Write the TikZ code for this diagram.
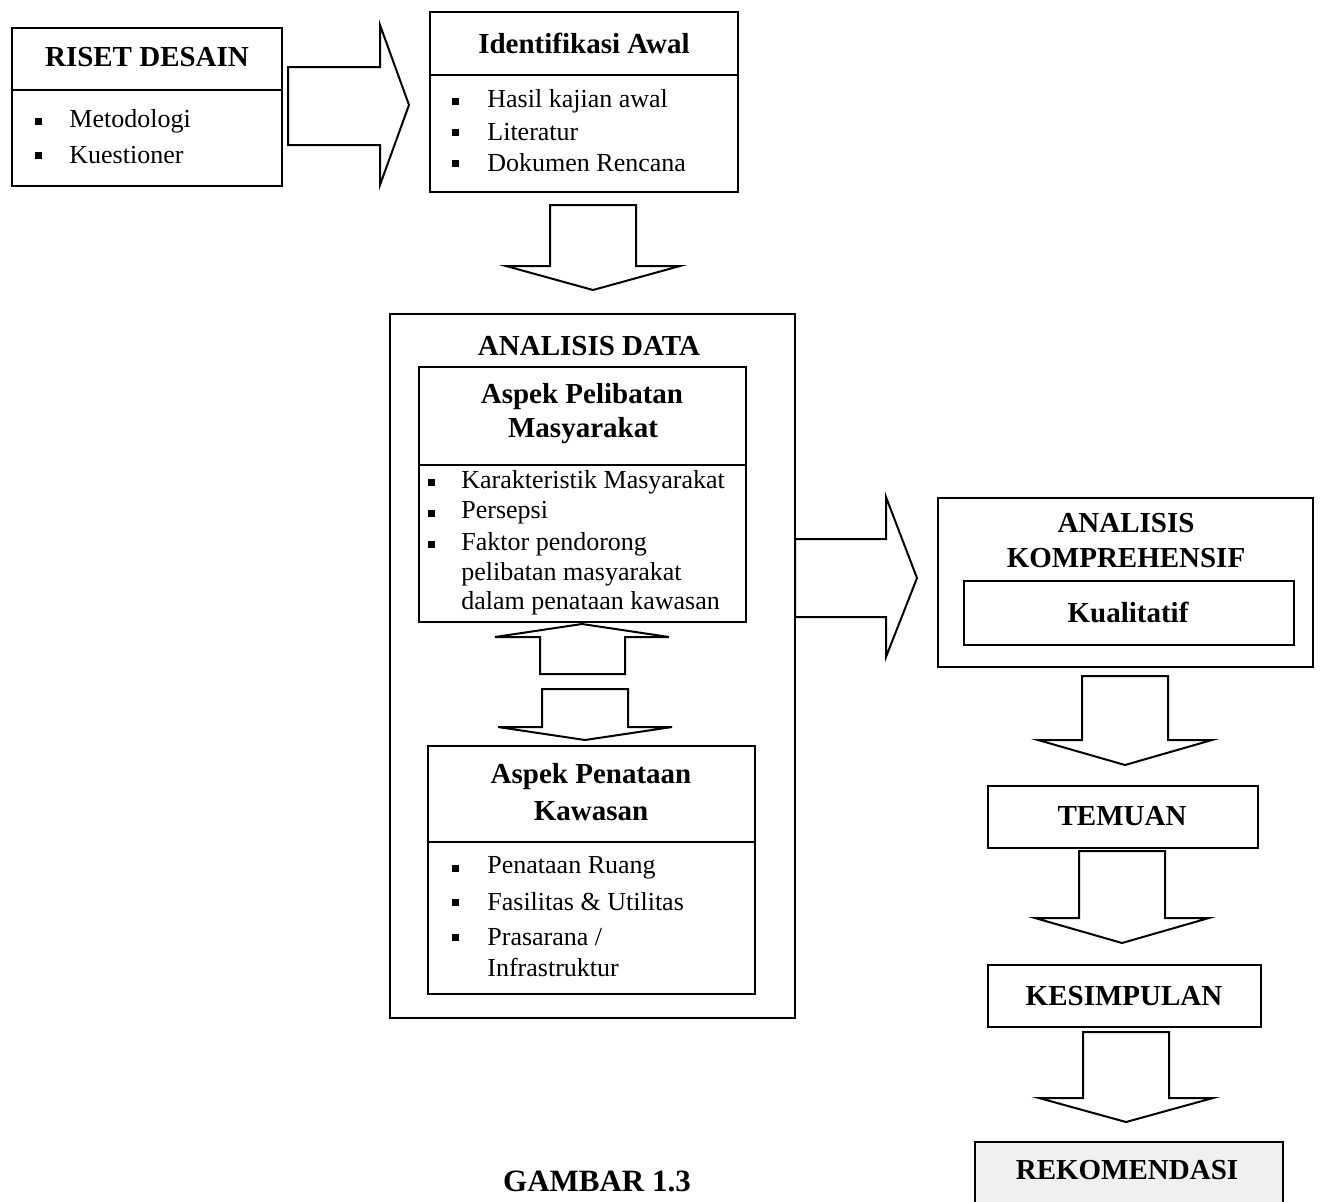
\documentclass[tikz,border=0pt]{standalone}
\usepackage{fontspec}
\setmainfont{Liberation Serif}
\tikzset{
  boxline/.style={line width=0.8pt},
  blockarrow/.style={line width=1pt, line join=miter},
  headtxt/.style={font=\fontsize{14.5}{17}\selectfont\bfseries, inner sep=0pt},
  itemtxt/.style={font=\fontsize{13}{15}\selectfont, anchor=west, inner sep=0pt},
  bulletsq/.style={fill, minimum size=3.5pt, inner sep=0pt},
}
\begin{document}
\begin{tikzpicture}[x=0.5pt,y=-0.5pt]
	\useasboundingbox (0,0) rectangle (1323,1201);
	% boxes
	\draw[boxline] (12,28) rectangle (282,186) (12,90) -- (282,90);
	\draw[boxline] (430,12) rectangle (738,192) (430,75) -- (738,75);
	\draw[boxline] (390,314) rectangle (795,1018);
	\draw[boxline] (419,367) rectangle (746,622) (419,465) -- (746,465);
	\draw[boxline] (428,746) rectangle (755,994) (428,842) -- (755,842);
	\draw[boxline] (938,498) rectangle (1313,667);
	\draw[boxline] (964,581) rectangle (1294,645);
	\draw[boxline] (988,786) rectangle (1258,848);
	\draw[boxline] (988,965) rectangle (1261,1027);
	\draw[boxline, fill=gray!12] (975,1142) rectangle (1283,1210);
	% block arrows
	\draw[blockarrow] (288,67) -- (380,67) -- (380,25) -- (409,105)
	-- (380,185) -- (380,145) -- (288,145) -- cycle;
	\draw[blockarrow] (795,539) -- (886,539) -- (886,497) -- (917,578)
	-- (886,657) -- (886,617) -- (795,617) -- cycle;
	\draw[blockarrow] (540,674) -- (540,637) -- (495,637) -- (582,624)
	-- (669,637) -- (625,637) -- (625,674) -- cycle;
	\foreach \cx/\ya/\yb/\yc in {593/205/266/290, 585/689/727/740,
		1125/676/740/765, 1122/851/918/943, 1126/1032/1098/1122}
	\draw[blockarrow] (\cx-43,\ya) -- (\cx+43,\ya) -- (\cx+43,\yb) -- (\cx+87,\yb)
	-- (\cx,\yc) -- (\cx-87,\yb) -- (\cx-43,\yb) -- cycle;
	% headings
	\node[headtxt] (riset) at (147,57) {RISET DESAIN};
	\node[headtxt] (identifikasi) at (584,43) {Identifikasi Awal};
	\node[headtxt] (analisis) at (589,346) {ANALISIS DATA};
	\node[headtxt] (pelibatan1) at (582,397) {Aspek Pelibatan};
	\node[headtxt] (pelibatan2) at (583,431) {Masyarakat};
	\node[headtxt] (penataan1) at (591,777) {Aspek Penataan};
	\node[headtxt] (penataan2) at (591,811) {Kawasan};
	\node[headtxt] (kompre1) at (1126,523) {ANALISIS};
	\node[headtxt] (kompre2) at (1126,558) {KOMPREHENSIF};
	\node[headtxt] (kualitatif) at (1128,612) {Kualitatif};
	\node[headtxt] (temuan) at (1122,816) {TEMUAN};
	\node[headtxt] (kesimpulan) at (1124,996) {KESIMPULAN};
	\node[headtxt] (rekomendasi) at (1127,1170) {REKOMENDASI};
	\node[headtxt, font=\fontsize{15.5}{18}\selectfont\bfseries] (gambar) at (597,1181) {GAMBAR 1.3};
	% bullet lists
	\foreach \t/\y in {Metodologi/121, Kuestioner/155} {
		\node[bulletsq] (rb-\y) at (38,\y) {};
		\node[itemtxt] (ri-\y) at (69,\y) {\t};
	}
	\foreach \t/\y in {Hasil kajian awal/101, Literatur/132, Dokumen Rencana/163} {
		\node[bulletsq] (ib-\y) at (455,\y) {};
		\node[itemtxt] (ii-\y) at (487,\y) {\t};
	}
	\foreach \t/\y in {Karakteristik Masyarakat/482, Persepsi/513, Faktor pendorong/544} {
		\node[bulletsq] (pb-\y) at (431,\y) {};
		\node[itemtxt] (pi-\y) at (461,\y) {\t};
	}
	\node[itemtxt] (pi-574) at (461,574) {pelibatan masyarakat};
	\node[itemtxt] (pi-603) at (461,603) {dalam penataan kawasan};
	\foreach \t/\y in {Penataan Ruang/868, Fasilitas \& Utilitas/902, {Prasarana /}/937} {
		\node[bulletsq] (kb-\y) at (455,\y) {};
		\node[itemtxt] (ki-\y) at (487,\y) {\t};
	}
	\node[itemtxt] (ki-967) at (487,967) {Infrastruktur};
\end{tikzpicture}
\end{document}
